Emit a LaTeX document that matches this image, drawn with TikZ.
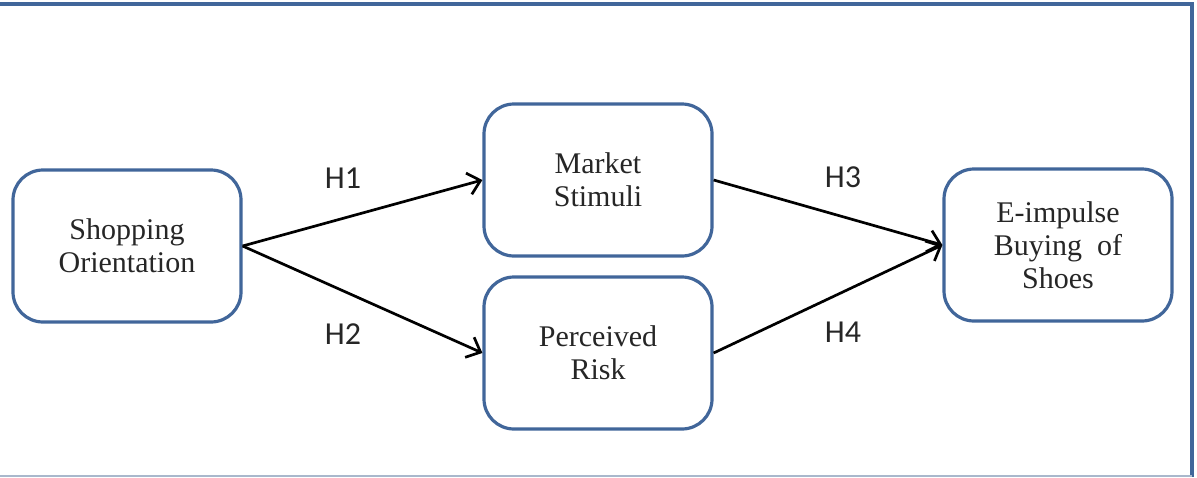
\documentclass[tikz,border=0pt]{standalone}
\usepackage{fontspec}
\setmainfont{Liberation Serif}
\newfontfamily\hfont{Carlito}
\usetikzlibrary{arrows.meta}
\definecolor{boxblue}{HTML}{41669A}
\definecolor{framelight}{HTML}{A9B8CC}
\tikzset{
  concept/.style={draw=boxblue, line width=1.6pt, rounded corners=15pt,
    minimum width=114pt, minimum height=76pt, align=center,
    font=\fontsize{15}{16.5}\selectfont, text=black!85, inner sep=0pt},
  link/.style={line width=1.35pt, -{Straight Barb[length=6pt,width=11pt,line width=1.35pt]}},
  hyp/.style={font=\hfont\fontsize{16}{18}\selectfont, text=black!85}
}
\begin{document}
\begin{tikzpicture}[x=0.5pt,y=-0.5pt]
\useasboundingbox (0,0) rectangle (1197,477);
\fill[white] (0,0) rectangle (1197,477);
% frame
\draw[boxblue, line width=2pt] (0,4) -- (1192,4) -- (1192,477);
\draw[framelight, line width=1pt] (0,475.5) -- (1192,475.5);
% nodes
\node[concept] (so) at (127,246) {Shopping\\Orientation};
\node[concept] (ms) at (598,180) {Market\\Stimuli};
\node[concept] (pr) at (598,353) {Perceived\\Risk};
\node[concept] (eb) at (1058,245) {E-impulse\\Buying~~of\\Shoes};
% connectors
\draw[link] (so.east) -- (ms.west);
\draw[link] (so.east) -- (pr.west);
\draw[link] (ms.east) -- (eb.west);
\draw[link] (pr.east) -- (eb.west);
% labels
\node[hyp] (h1) at (343,178) {H1};
\node[hyp] (h2) at (343,334) {H2};
\node[hyp] (h3) at (843,177) {H3};
\node[hyp] (h4) at (843,332) {H4};
\end{tikzpicture}
\end{document}
